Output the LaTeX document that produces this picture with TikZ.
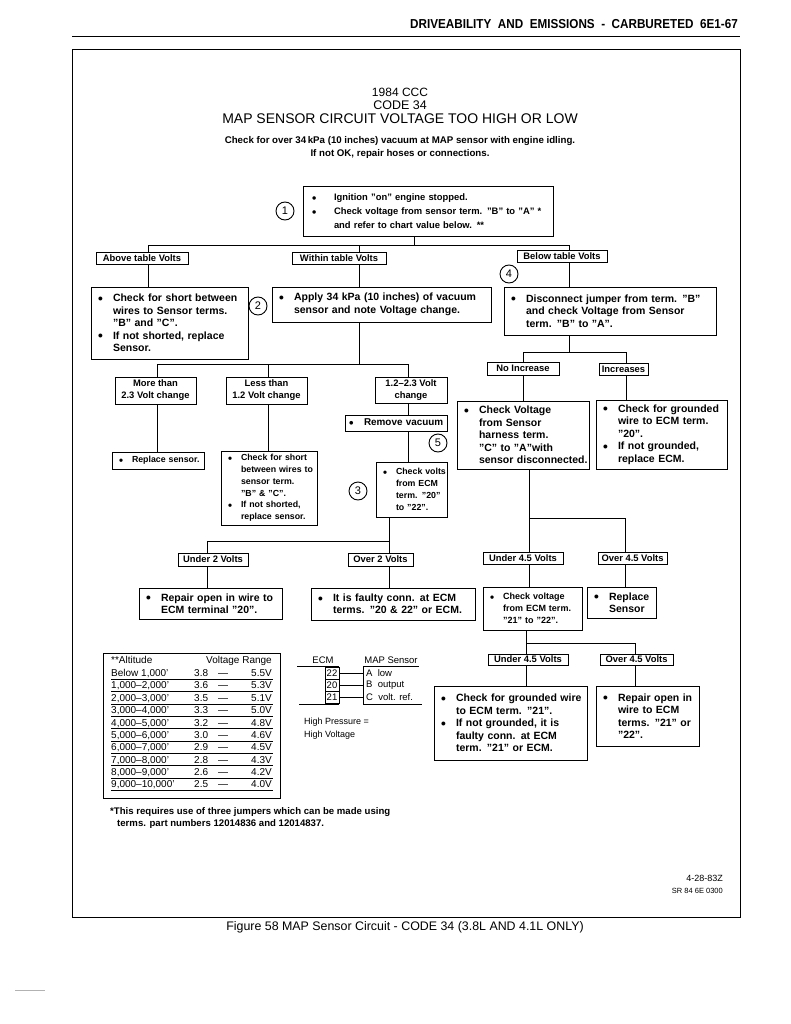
\documentclass[tikz,border=0pt]{standalone}
\usepackage{fontspec}
\setmainfont{Liberation Sans}
\usepackage{graphicx}
\newcommand\qfB{\fontsize{10.5}{12.4}\selectfont\bfseries}
\newcommand\qfR{\fontsize{9.9}{12.4}\selectfont\bfseries}
\newcommand\qfS{\fontsize{8.8}{11.8}\selectfont\bfseries}
\newcommand\qfM{\fontsize{9}{11.8}\selectfont\bfseries}
\newcommand\qfN{\fontsize{9.7}{12}\selectfont\bfseries}
\newcommand\qfL{\fontsize{9.4}{12}\selectfont\bfseries}
\newcommand\qfA{\fontsize{9.4}{14}\selectfont\bfseries}
\newcommand\qfT{\fontsize{10}{12}\selectfont}
\newcommand\qdot{\raisebox{-0.15em}{\scalebox{1.3}{\textbullet}}}
\newcommand\qbi[1]{\mbox{\makebox[15pt][l]{\qdot}#1}}
\newcommand\qii[1]{\mbox{\hspace*{15pt}#1}}
\newcommand\qbs[1]{\mbox{\makebox[13pt][l]{\qdot}#1}}
\newcommand\qis[1]{\mbox{\hspace*{13pt}#1}}
\newcommand\qba[1]{\mbox{\hspace*{2pt}\makebox[22pt][l]{\qdot}#1}}
\newcommand\qia[1]{\mbox{\hspace*{24pt}#1}}
\tikzset{
  box/.style={draw, line width=1pt, inner sep=0pt, align=left},
  lab/.style={draw, line width=0.9pt, inner sep=0pt, align=center, font=\qfL},
  num/.style={circle, draw, line width=0.9pt, minimum size=18pt, inner sep=0pt, font=\fontsize{11}{12}\selectfont},
  wire/.style={line width=1pt},
  tt/.style={inner sep=0pt, font=\qfT},
}
\newcommand\qbox[7]{%
  \pgfmathsetmacro\qw{#4-#2}\pgfmathsetmacro\qh{#5-#3}\pgfmathsetmacro\qt{#4-#2-14}%
  \pgfmathsetmacro\qx{(#2+#4)/2}\pgfmathsetmacro\qy{(#3+#5)/2}%
  \node[box, font=#6, minimum width=\qw pt, minimum height=\qh pt, text width=\qt pt] (#1) at (\qx,\qy) {#7};}
\newcommand\qlab[6]{%
  \pgfmathsetmacro\qw{#4-#2}\pgfmathsetmacro\qh{#5-#3}%
  \pgfmathsetmacro\qx{(#2+#4)/2}\pgfmathsetmacro\qy{(#3+#5)/2}%
  \node[lab, minimum width=\qw pt, minimum height=\qh pt] (#1) at (\qx,\qy) {#6};}
\newcommand\qrow[4]{%
  \pgfmathsetmacro\qr{673+12.35*(#1-1)}%
  \node[tt, anchor=base west] (ra#1) at (111,\qr+3.6) {#2};
  \node[tt, anchor=base west] (rl#1) at (194,\qr+3.6) {#3};
  \node[tt, anchor=base] (rd#1) at (223,\qr+3.6) {---};
  \node[tt, anchor=base east] (rh#1) at (272,\qr+3.6) {#4};
  \draw[line width=0.7pt] (111,\qr+6.2) -- (273,\qr+6.2);}
\begin{document}
\begin{tikzpicture}[x=1pt,y=-1pt]
\fill[white] (0,0) rectangle (791,1024);
\useasboundingbox (0,0) rectangle (791,1024);

% header
\node[anchor=east, inner sep=0pt, font=\fontsize{13}{15}\selectfont\bfseries] (hdr) at (738,24) {\scalebox{0.9}[1]{DRIVEABILITY\ \ AND\ \ EMISSIONS\ \ -\ \ CARBURETED\ \ 6E1-67}};
\draw[line width=1pt] (72,37) -- (740,37);
\draw[line width=1pt] (72,50) rectangle (740,917);
\node[font=\fontsize{12.4}{14}\selectfont] (cap) at (405,927) {Figure 58 MAP Sensor Circuit - CODE 34 (3.8L AND 4.1L ONLY)};
\draw[gray!60, line width=0.6pt] (15,990) -- (45,990);

% titles
\node[font=\fontsize{12}{14}\selectfont] (t1) at (400,92) {1984 CCC};
\node[font=\fontsize{12.5}{14}\selectfont] (t2) at (400,105) {CODE 34};
\node[font=\fontsize{14}{16}\selectfont] (t3) at (400,119) {MAP SENSOR CIRCUIT VOLTAGE TOO HIGH OR LOW};
\node[font=\qfN] (t4) at (400,141) {Check for over 34\,kPa (10 inches) vacuum at MAP sensor with engine idling.};
\node[font=\qfN] (t5) at (400,154) {If not OK, repair hoses or connections.};

% step 1
\qbox{b1}{303}{187}{553}{236}{\qfA}{\qba{Ignition ''on'' engine stopped.}\\\qba{Check voltage from sensor term. ''B'' to ''A'' *}\\\qia{and refer to chart value below. **}}
\node[num] (c1) at (285,211) {1};

\qlab{above}{96}{252}{188}{264}{Above table Volts}
\qlab{within}{292}{252}{386}{264}{Within table Volts}
\qlab{below}{517}{250}{607}{262}{Below table Volts}

\qbox{chk1}{91}{287}{248}{359}{\qfB}{\qbi{Check for short between}\\\qii{wires to Sensor terms.}\\\qii{''B'' and ''C''.}\\\qbi{If not shorted, replace}\\\qii{Sensor.}}
\node[num] (c2) at (258,306) {2};
\qbox{apply}{272}{287}{491}{322}{\qfB}{\qbi{Apply 34 kPa (10 inches) of vacuum}\\\qii{sensor and note Voltage change.}}
\node[num] (c4) at (509,274) {4};
\qbox{disc}{504}{287}{716}{335}{\qfB}{\qbi{Disconnect jumper from term. ''B''}\\\qii{and check Voltage from Sensor}\\\qii{term. ''B'' to ''A''.}}

% left branch
\qlab{more}{115}{377}{196}{404}{More than\\2.3 Volt change}
\qlab{less}{226}{377}{307}{404}{Less than\\1.2 Volt change}
\qlab{mid}{375}{377}{447}{403}{1.2--2.3 Volt\\change}
\qbox{remove}{345}{415}{447}{431}{\qfR}{\hspace*{-3pt}\qbi{Remove vacuum}}
\node[num] (c5) at (438,443) {5};
\qbox{chkvolts}{376}{462}{447}{517}{\qfS}{\qbs{Check volts}\\\qis{from ECM}\\\qis{term. ''20''}\\\qis{to ''22''.}}
\node[num] (c3) at (358,491) {3};
\qbox{repl}{112}{452}{204}{469}{\qfS}{\qbs{Replace sensor.}}
\qbox{chk2}{221}{451}{317}{525}{\qfS}{\qbs{Check for short}\\\qis{between wires to}\\\qis{sensor term.}\\\qis{''B'' \& ''C''.}\\\qbs{If not shorted,}\\\qis{replace sensor.}}
\qlab{under2}{178}{553}{248}{566}{Under 2 Volts}
\qlab{over2}{348}{553}{413}{566}{Over 2 Volts}
\qbox{rep20}{139}{588}{282}{619}{\qfB}{\qbi{Repair open in wire to}\\\qii{ECM terminal ''20''.}}
\qbox{faulty}{311}{588}{475}{620}{\qfB}{\qbi{It is faulty conn. at ECM}\\\qii{terms. ''20 \& 22'' or ECM.}}

% right branch
\qlab{noinc}{487}{362}{559}{375}{No Increase}
\qlab{inc}{599}{363}{648}{375}{Increases}
\qbox{chkV}{457}{401}{589}{469}{\qfB}{\qbi{Check Voltage}\\\qii{from Sensor}\\\qii{harness term.}\\\qii{''C'' to ''A''with}\\\qii{sensor disconnected.}}
\qbox{chkgnd}{596}{400}{727}{469}{\qfB}{\qbi{Check for grounded}\\\qii{wire to ECM term.}\\\qii{''20''.}\\\qbi{If not grounded,}\\\qii{replace ECM.}}
\qlab{und45a}{483}{552}{563}{564}{Under 4.5 Volts}
\qlab{ov45a}{598}{552}{667}{564}{Over 4.5 Volts}
\qbox{chkECM}{483}{587}{582}{630}{\qfM}{\qbs{Check voltage}\\\qis{from ECM term.}\\\qis{''21'' to ''22''.}}
\qbox{replS}{587}{587}{656}{618}{\qfB}{\qbi{Replace}\\\qii{Sensor}}
\qlab{und45b}{488}{654}{568}{665}{Under 4.5 Volts}
\qlab{ov45b}{600}{654}{673}{665}{Over 4.5 Volts}
\qbox{gnd21}{434}{686}{587}{760}{\qfB}{\qbi{Check for grounded wire}\\\qii{to ECM term. ''21''.}\\\qbi{If not grounded, it is}\\\qii{faulty conn. at ECM}\\\qii{term. ''21'' or ECM.}}
\qbox{open21}{596}{686}{699}{746}{\qfB}{\qbi{Repair open in}\\\qii{wire to ECM}\\\qii{terms. ''21'' or}\\\qii{''22''.}}

% connectors
\coordinate (t0) at (414,245); \coordinate (tL) at (148,245);
\coordinate (tM) at (359,245); \coordinate (tR) at (569,245);
\draw[wire] (b1.south -| t0) -- (t0);
\draw[wire] (tL) -- (tR);
\draw[wire] (tL) -- (tL |- above.north);
\draw[wire] (tM) -- (tM |- within.north);
\draw[wire] (tR) -- (tR |- below.north);
\draw[wire] (above.south -| tL) -- (tL |- chk1.north);
\draw[wire] (within.south -| tM) -- (tM |- apply.north);
\draw[wire] (below.south -| tR) -- (tR |- disc.north);

\coordinate (s0) at (359,364); \coordinate (sL) at (157,364);
\coordinate (sM) at (268,364); \coordinate (sR) at (408,364);
\draw[wire] (apply.south -| s0) -- (s0);
\draw[wire] (sL) -- (sR);
\draw[wire] (sL) -- (sL |- more.north);
\draw[wire] (sM) -- (sM |- less.north);
\draw[wire] (sR) -- (sR |- mid.north);
\draw[wire] (more.south -| sL) -- (sL |- repl.north);
\draw[wire] (less.south -| sM) -- (sM |- chk2.north);
\draw[wire] (mid.south -| sR) -- (sR |- remove.north);
\draw[wire] (remove.south -| sR) -- (sR |- chkvolts.north);

\coordinate (u0) at (389,541); \coordinate (uL) at (207,541);
\draw[wire] (chkvolts.south -| u0) -- (u0) -- (uL) -- (uL |- under2.north);
\draw[wire] (u0) -- (u0 |- over2.north);
\draw[wire] (under2.south -| uL) -- (uL |- rep20.north);
\draw[wire] (over2.south -| u0) -- (u0 |- faulty.north);

\coordinate (r0) at (569,352); \coordinate (rL) at (523,352); \coordinate (rR) at (626,352);
\draw[wire] (disc.south -| r0) -- (r0);
\draw[wire] (rL) -- (rR);
\draw[wire] (rL) -- (rL |- noinc.north);
\draw[wire] (rR) -- (rR |- inc.north);
\draw[wire] (noinc.south -| rL) -- (rL |- chkV.north);
\draw[wire] (inc.south -| rR) -- (rR |- chkgnd.north);

\coordinate (v0) at (529,518); \coordinate (vR) at (625,518);
\draw[wire] (chkV.south -| v0) -- (v0 |- und45a.north);
\draw[wire] (v0) -- (vR) -- (vR |- ov45a.north);
\draw[wire] (und45a.south -| v0) -- (v0 |- chkECM.north);
\draw[wire] (ov45a.south -| vR) -- (vR |- replS.north);

\coordinate (w0) at (526,643); \coordinate (wR) at (635,643);
\draw[wire] (chkECM.south -| w0) -- (w0) -- (wR);
\draw[wire] (w0) -- (w0 |- und45b.north);
\draw[wire] (wR) -- (wR |- ov45b.north);
\draw[wire] (und45b.south -| w0) -- (w0 |- gnd21.north);
\draw[wire] (ov45b.south -| wR) -- (wR |- open21.north);

% altitude table
\node[draw, line width=1pt, minimum width=177pt, minimum height=145pt, inner sep=0pt] (tbl) at (191.5,725.5) {};
\node[tt, anchor=base west] (th1) at (111,663.6) {**Altitude};
\node[tt, anchor=base east] (th2) at (272,663.6) {Voltage Range};
\qrow{1}{Below 1,000'}{3.8}{5.5V}
\qrow{2}{1,000--2,000'}{3.6}{5.3V}
\qrow{3}{2,000--3,000'}{3.5}{5.1V}
\qrow{4}{3,000--4,000'}{3.3}{5.0V}
\qrow{5}{4,000--5,000'}{3.2}{4.8V}
\qrow{6}{5,000--6,000'}{3.0}{4.6V}
\qrow{7}{6,000--7,000'}{2.9}{4.5V}
\qrow{8}{7,000--8,000'}{2.8}{4.3V}
\qrow{9}{8,000--9,000'}{2.6}{4.2V}
\qrow{10}{9,000--10,000'}{2.5}{4.0V}

% ECM / MAP sensor
\coordinate (sv) at (363,666);
\node[tt, font=\fontsize{9.5}{11}\selectfont] (ecm) at (323,660) {ECM};
\node[tt, font=\fontsize{9.5}{11}\selectfont] (mapS) at (391,660) {MAP Sensor};
\draw[line width=0.9pt] (297,666) -- (339,666);
\draw[line width=0.9pt] (363,666) -- (419,666);
\draw[line width=0.9pt] (299,704) -- (339,704);
\draw[line width=0.9pt] (363,704) -- (422,704);
\draw[line width=0.9pt] (363,666) -- (363,704);
\node[draw, line width=0.9pt, minimum width=14pt, minimum height=12pt, inner sep=0pt, font=\fontsize{9.5}{11}\selectfont] (e22) at (332,673) {22};
\node[draw, line width=0.9pt, minimum width=14pt, minimum height=12pt, inner sep=0pt, font=\fontsize{9.5}{11}\selectfont] (e20) at (332,685) {20};
\node[draw, line width=0.9pt, minimum width=14pt, minimum height=12pt, inner sep=0pt, font=\fontsize{9.5}{11}\selectfont] (e21) at (332,697) {21};
\node[tt, anchor=west, font=\fontsize{9.5}{11}\selectfont] (pA) at (366,673) {A\ \ low};
\node[tt, anchor=west, font=\fontsize{9.5}{11}\selectfont] (pB) at (366,685) {B\ \ output};
\node[tt, anchor=west, font=\fontsize{9.5}{11}\selectfont] (pC) at (366,697) {C\ \ volt. ref.};
\draw[line width=0.9pt] (e22.east) -- (e22.east -| sv);
\draw[line width=0.9pt] (e20.east) -- (e20.east -| sv);
\draw[line width=0.9pt] (e21.east) -- (e21.east -| sv);
\node[tt, anchor=west, font=\fontsize{9}{11}\selectfont] (hp1) at (304,722) {High Pressure =};
\node[tt, anchor=west, font=\fontsize{9}{11}\selectfont] (hp2) at (304,735) {High Voltage};

% footnote
\node[tt, anchor=west, font=\fontsize{9.6}{11.8}\selectfont\bfseries] (fn1) at (110,812) {*This requires use of three jumpers which can be made using};
\node[tt, anchor=west, font=\fontsize{9.6}{11.8}\selectfont\bfseries] (fn2) at (117,824) {terms. part numbers 12014836 and 12014837.};

\node[tt, anchor=east, font=\fontsize{9}{11}\selectfont] (dt) at (723,878) {4-28-83Z};
\node[tt, anchor=east, font=\fontsize{7.5}{9}\selectfont] (sr) at (723,891) {SR 84 6E 0300};
\end{tikzpicture}
\end{document}
